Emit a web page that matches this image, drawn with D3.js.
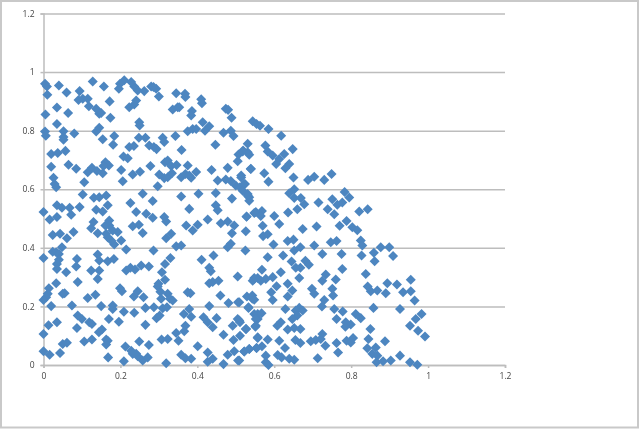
<!DOCTYPE html>
<html><head><meta charset="utf-8">
<script src="https://cdn.jsdelivr.net/npm/d3@7/dist/d3.min.js"></script>
<style>html,body{margin:0;padding:0;background:#fff;overflow:hidden}
svg{display:block;filter:blur(0.35px)}
text{font-family:"Open Sans",sans-serif}</style></head><body>
<svg id="c" width="640" height="429"></svg>
<script>
const xTicks=[0,0.2,0.4,0.6,0.8,1,1.2];
const yTicks=[0,0.2,0.4,0.6,0.8,1,1.2];
const pointsTopLeft=[[.004,.96],[.009,.951],[.01,.923],[.04,.954],[.06,.93],[.094,.935],[.128,.968],[.157,.951],[.091,.905],[.102,.909],[.115,.909],[.118,.883],[.137,.875],[.145,.858],[.15,.86],[.172,.9],[.174,.844],[.005,.855],[.035,.879],[.064,.86],[.035,.823],[.004,.797],[.006,.783],[.052,.798],[.052,.778],[.052,.769],[.08,.79],[.137,.797],[.145,.81],[.154,.771],[.184,.782],[.181,.752],[.02,.72],[.037,.724],[.057,.731],[.02,.677],[.065,.684],[.085,.67],[.026,.639],[.029,.618],[.033,.607],[.106,.624],[.115,.658],[.126,.673],[.139,.662],[.154,.655],[.161,.692],[.17,.681],[.156,.679],[.202,.666],[.206,.627],[.232,.65],[.251,.66],[.208,.712],[.219,.706],[.223,.744],[.235,.748],[.248,.776],[.265,.776],[.275,.749],[.287,.744],[.294,.737],[.31,.776],[.314,.761],[.343,.782],[.359,.734],[.278,.679],[.316,.692],[.323,.698],[.332,.679],[.346,.683],[.301,.65],[.314,.638],[.323,.641],[.334,.655],[.297,.61],[.358,.641],[.369,.652],[.375,.681],[.384,.639],[.397,.659],[.379,.647],[.437,.666],[.453,.63],[.479,.673],[.474,.633],[.487,.628],[.505,.696],[.514,.647],[.539,.67],[.507,.719],[.519,.732],[.531,.755],[.531,.726],[.5,.613],[.511,.607],[.524,.618],[.531,.584],[.535,.573],[.447,.752],[.468,.793],[.487,.8],[.494,.782],[.489,.844],[.474,.875],[.48,.871],[.414,.829],[.42,.8],[.431,.815],[.41,.907],[.412,.894],[.375,.798],[.388,.806],[.397,.806],[.386,.867],[.384,.852],[.345,.928],[.368,.926],[.369,.915],[.336,.872],[.349,.88],[.353,.88],[.3,.917],[.293,.943],[.28,.951],[.286,.949],[.262,.935],[.245,.937],[.236,.951],[.228,.966],[.21,.972],[.199,.96],[.196,.943],[.241,.903],[.236,.889],[.223,.88],[.249,.829],[.25,.818]];
const pointsBottomLeft=[[0,.522],[.016,.497],[.035,.505],[.035,.545],[.048,.537],[.068,.537],[.072,.513],[.094,.539],[.024,.444],[.043,.448],[.061,.433],[.078,.454],[0,.365],[.024,.387],[.033,.385],[.04,.379],[.048,.402],[.04,.359],[.035,.345],[.035,.328],[.059,.317],[.087,.362],[.085,.336],[.089,.283],[.033,.279],[.014,.262],[.011,.243],[.007,.231],[0,.222],[.05,.243],[.055,.245],[.02,.201],[.074,.203],[.035,.146],[.013,.136],[0,.106],[0,.047],[.016,.035],[.043,.041],[.05,.072],[.061,.076],[.087,.126],[.089,.169],[.1,.157],[.115,.229],[.135,.24],[.15,.201],[.119,.146],[.126,.14],[.106,.08],[.126,.087],[.144,.112],[.152,.121],[.163,.087],[.167,.083],[.163,.07],[.168,.026],[.17,.157],[.18,.203],[.18,.191],[.196,.148],[.209,.182],[.236,.178],[.209,.013],[.213,.063],[.228,.049],[.232,.038],[.241,.038],[.249,.08],[.245,.03],[.258,.015],[.271,.026],[.274,.068],[.265,.137],[.199,.262],[.204,.252],[.235,.234],[.245,.252],[.26,.231],[.265,.195],[.287,.197],[.31,.194],[.294,.16],[.302,.169],[.307,.087],[.323,.089],[.319,.006],[.345,.109],[.351,.083],[.358,.035],[.369,.023],[.384,.021],[.401,.064],[.365,.174],[.379,.191],[.384,.165],[.369,.134],[.366,.115],[.375,.248],[.382,.245],[.297,.268],[.304,.25],[.299,.277],[.316,.291],[.306,.226],[.323,.243],[.329,.226],[.336,.22],[.321,.197],[.308,.317],[.316,.345],[.33,.365],[.286,.391],[.215,.394],[.202,.425],[.184,.411],[.176,.425],[.167,.436],[.163,.448],[.193,.454],[.18,.459],[.171,.476],[.161,.476],[.171,.493],[.141,.45],[.124,.467],[.13,.488],[.137,.53],[.154,.524],[.167,.545],[.131,.571],[.145,.573],[.163,.579],[.102,.582],[.226,.553],[.241,.522],[.267,.516],[.284,.503],[.258,.451],[.232,.474],[.248,.479],[.314,.505],[.319,.49],[.332,.448],[.319,.433],[.345,.405],[.358,.408],[.141,.377],[.145,.357],[.167,.354],[.183,.362],[.124,.323],[.145,.323],[.141,.294],[.215,.323],[.226,.332],[.238,.326],[.254,.34],[.274,.336],[.258,.585],[.284,.56],[.358,.575],[.379,.533],[.427,.497],[.403,.585],[.448,.587],[.448,.545],[.453,.528],[.461,.484],[.49,.568],[.479,.49],[.496,.476],[.49,.45],[.371,.476],[.388,.459],[.401,.479],[.526,.457],[.528,.507],[.552,.522],[.487,.414],[.479,.402],[.525,.391],[.442,.374],[.411,.359],[.431,.332],[.435,.32],[.431,.279],[.44,.283],[.455,.288],[.505,.302],[.548,.294],[.557,.297],[.46,.237],[.431,.201],[.481,.212],[.506,.214],[.529,.234],[.543,.226],[.533,.197],[.416,.163],[.427,.146],[.44,.129],[.45,.16],[.468,.103],[.492,.134],[.505,.157],[.511,.146],[.526,.123],[.548,.174],[.552,.134],[.557,.157],[.511,.1],[.494,.085],[.496,.047],[.479,.035],[.468,.003],[.506,.015],[.427,.043],[.44,.021],[.427,.011],[.522,.046],[.535,.055],[.554,.058],[.557,.095]];
const pointsTopRight=[[.544,.832],[.554,.823],[.563,.817],[.585,.806],[.618,.783],[.518,.729],[.535,.718],[.577,.749],[.583,.729],[.596,.715],[.605,.686],[.613,.703],[.626,.72],[.648,.737],[.639,.686],[.629,.672],[.539,.669],[.574,.655],[.585,.626],[.65,.64],[.688,.632],[.704,.643],[.73,.632],[.749,.652],[.514,.64],[.522,.618],[.518,.595],[.531,.578],[.535,.561],[.652,.6],[.639,.586],[.652,.57],[.669,.57],[.678,.549],[.66,.532],[.636,.521],[.715,.555],[.783,.591],[.795,.572],[.751,.566],[.764,.547],[.777,.555],[.739,.532],[.756,.515],[.821,.524],[.843,.532],[.528,.506],[.548,.519],[.568,.526],[.565,.509],[.57,.475],[.6,.509],[.613,.481],[.674,.464],[.71,.473],[.77,.475],[.788,.492],[.803,.47],[.816,.46]];
const pointsBottomRight=[[.571,.44],[.583,.446],[.598,.411],[.635,.423],[.65,.428],[.652,.391],[.668,.402],[.704,.408],[.623,.374],[.583,.368],[.645,.353],[.725,.379],[.775,.379],[.747,.419],[.762,.423],[.825,.425],[.829,.408],[.827,.374],[.859,.383],[.877,.402],[.899,.402],[.909,.372],[.861,.354],[.681,.356],[.69,.342],[.668,.332],[.656,.332],[.777,.328],[.838,.311],[.568,.325],[.617,.317],[.596,.3],[.578,.294],[.565,.288],[.548,.297],[.544,.288],[.665,.297],[.734,.309],[.725,.288],[.76,.292],[.635,.277],[.606,.269],[.647,.254],[.635,.234],[.592,.248],[.596,.222],[.543,.237],[.548,.223],[.698,.26],[.704,.243],[.751,.26],[.753,.237],[.843,.268],[.851,.252],[.868,.254],[.89,.245],[.894,.279],[.919,.275],[.935,.248],[.955,.291],[.955,.252],[.965,.22],[.73,.222],[.724,.2],[.756,.191],[.778,.183],[.533,.195],[.509,.214],[.629,.191],[.665,.195],[.656,.186],[.674,.186],[.66,.169],[.647,.157],[.557,.174],[.567,.177],[.552,.157],[.551,.131],[.858,.195],[.927,.191],[.812,.174],[.825,.16],[.762,.157],[.786,.146],[.799,.138],[.785,.131],[.527,.123],[.617,.146],[.608,.134],[.635,.121],[.652,.126],[.668,.123],[.509,.152],[.85,.123],[.983,.174],[.968,.157],[.953,.134],[.974,.117],[.992,.097],[.557,.092],[.583,.087],[.613,.083],[.655,.085],[.668,.075],[.695,.081],[.708,.085],[.725,.106],[.721,.089],[.733,.066],[.762,.075],[.788,.083],[.805,.092],[.799,.077],[.845,.089],[.888,.081],[.842,.057],[.864,.06],[.855,.038],[.868,.032],[.927,.032],[.568,.064],[.554,.058],[.535,.055],[.522,.046],[.628,.058],[.578,.032],[.609,.034],[.619,.026],[.639,.021],[.652,.018],[.766,.043],[.713,.023],[.578,.009],[.585,0],[.866,.009],[.883,.013],[.903,.015],[.953,.009],[.972,.001],[.509,.015]];

const points=[...pointsTopLeft,...pointsBottomLeft,...pointsTopRight,...pointsBottomRight];
const svg=d3.select("#c");
svg.append("rect").attr("x",1).attr("y",1).attr("width",637).attr("height",426.5)
  .attr("fill","#fff").attr("stroke","#c9c9c9").attr("stroke-width",2);
const x=d3.scaleLinear().domain([0,1.2]).range([43.5,505]);
const y=d3.scaleLinear().domain([0,1.2]).range([365,13.5]);
const grid=svg.append("g").attr("transform","translate(43.5,0)")
  .call(d3.axisLeft(y).tickValues(yTicks).tickSize(-461.5).tickFormat(""));
grid.selectAll("line").attr("stroke","#bdbdbd").attr("stroke-width",1.5);
grid.select(".domain").remove();
const ax=svg.append("g").attr("transform","translate(43.5,0)")
  .call(d3.axisLeft(y).tickValues(yTicks).tickSize(3).tickPadding(6).tickFormat(d3.format("~g")));
const bx=svg.append("g").attr("transform","translate(0,365)")
  .call(d3.axisBottom(x).tickValues(xTicks).tickSize(3).tickPadding(5).tickFormat(d3.format("~g")));
for(const a of [ax,bx]){
  a.selectAll("line").attr("stroke","#bdbdbd").attr("stroke-width",1.5);
  a.select(".domain").attr("stroke","#bdbdbd").attr("stroke-width",1.5);
  a.selectAll("text").attr("fill","#444").style("font-size","8.5px").style("font-family",'"Open Sans",sans-serif');
}
const sym=d3.symbol().type(d3.symbolDiamond2).size(64);
svg.append("g").selectAll("path").data(points).join("path")
  .attr("d",sym).attr("fill","#4d86c0")
  .attr("transform",d=>`translate(${x(d[0])},${y(d[1])})`);
</script></body></html>
